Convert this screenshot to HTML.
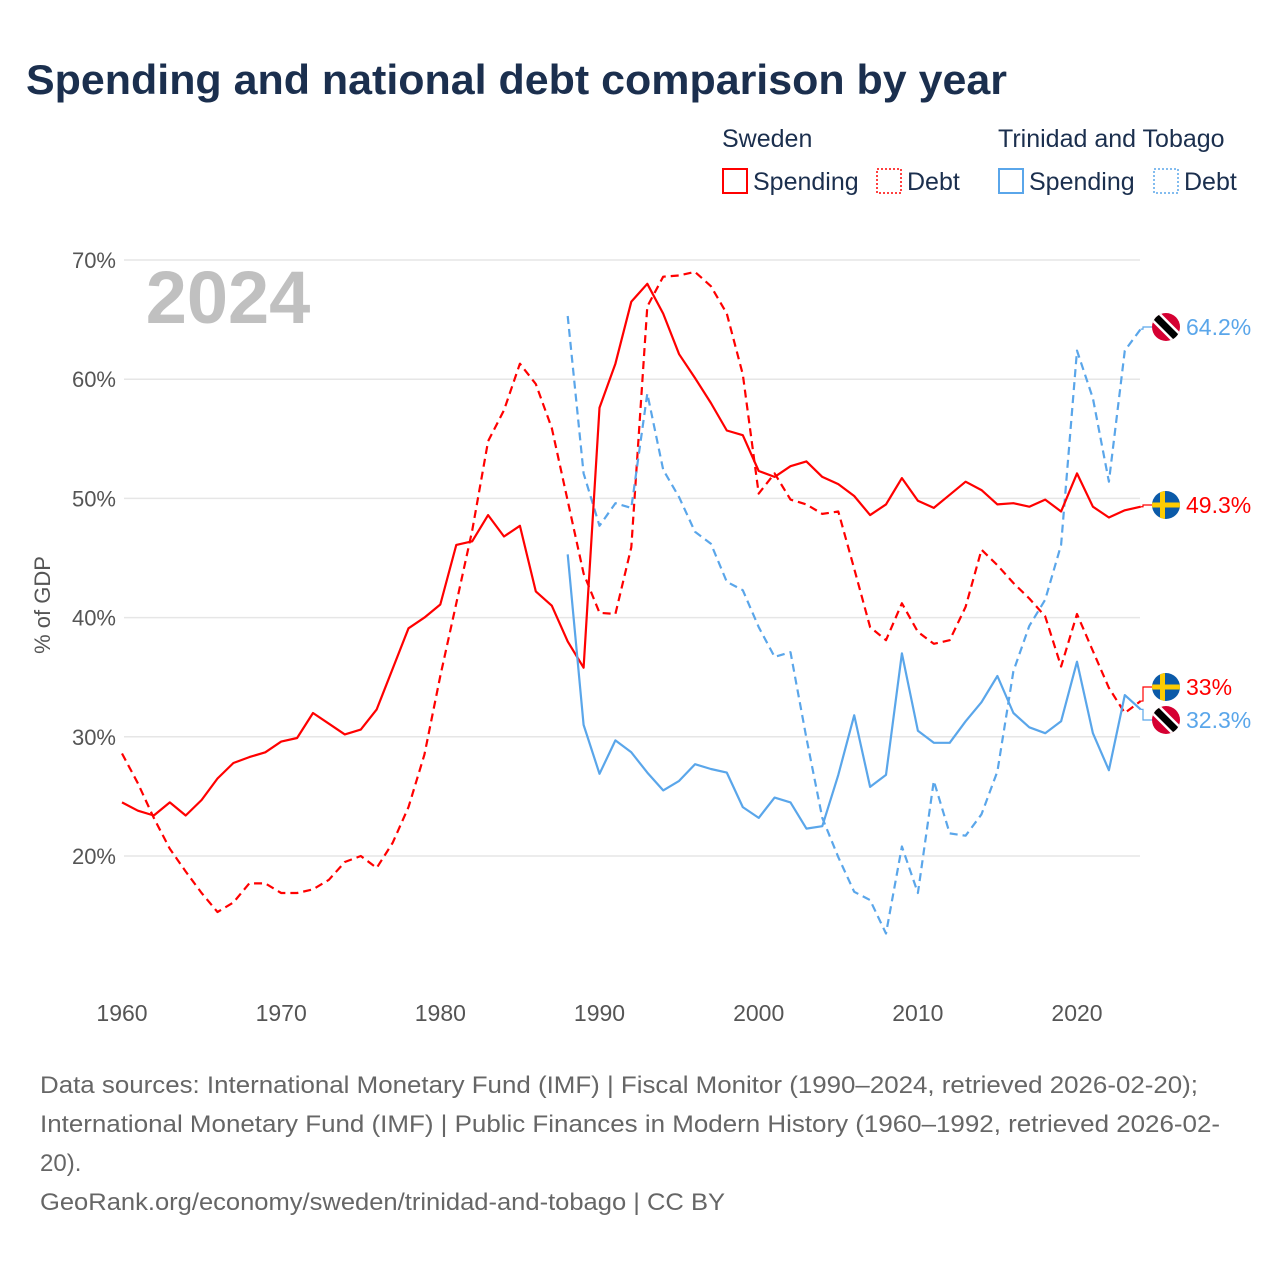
<!DOCTYPE html>
<html><head><meta charset="utf-8">
<style>
body{margin:0;background:#fff;font-family:"Liberation Sans",sans-serif;}
#wrap{position:relative;width:1280px;height:1280px;overflow:hidden;}
</style></head>
<body>
<div id="wrap">
<svg id="chart" width="1280" height="1280" xmlns="http://www.w3.org/2000/svg">
  <text x="26" y="94" font-size="42" font-weight="bold" fill="#1b2f4e" textLength="981" lengthAdjust="spacingAndGlyphs">Spending and national debt comparison by year</text>
  <g font-size="25" fill="#1b2f4e">
    <text x="722" y="147">Sweden</text>
    <text x="998" y="147">Trinidad and Tobago</text>
    <g><rect x="723" y="169" width="24" height="24" fill="none" stroke="#ff0000" stroke-width="2"/><text x="753" y="190">Spending</text></g>
    <g><rect x="877" y="169" width="24" height="24" fill="none" stroke="#ff0000" stroke-width="1.5" stroke-dasharray="2,2"/><text x="907" y="190">Debt</text></g>
    <g><rect x="999" y="169" width="24" height="24" fill="none" stroke="#5aa6ea" stroke-width="2"/><text x="1029" y="190">Spending</text></g>
    <g><rect x="1154" y="169" width="24" height="24" fill="none" stroke="#5aa6ea" stroke-width="1.5" stroke-dasharray="2,2"/><text x="1184" y="190">Debt</text></g>
  </g>
  <text x="228" y="323" font-size="74" font-weight="bold" fill="#c0c0c0" text-anchor="middle">2024</text>
  <text transform="translate(50,605) rotate(-90)" font-size="22" fill="#555" text-anchor="middle">% of GDP</text>
  <g id="grid"></g>
  <g id="series"></g>
  <g id="labels"></g>
  <g font-size="24" fill="#666">
    <text x="40" y="1093" textLength="1158" lengthAdjust="spacingAndGlyphs">Data sources: International Monetary Fund (IMF) | Fiscal Monitor (1990–2024, retrieved 2026-02-20);</text>
    <text x="40" y="1132" textLength="1180" lengthAdjust="spacingAndGlyphs">International Monetary Fund (IMF) | Public Finances in Modern History (1960–1992, retrieved 2026-02-</text>
    <text x="40" y="1171">20).</text>
    <text x="40" y="1210" textLength="685" lengthAdjust="spacingAndGlyphs">GeoRank.org/economy/sweden/trinidad-and-tobago | CC BY</text>
  </g>
</svg>
</div>
<script>
const yTicks=[20,30,40,50,60,70];
const xTicks=[1960,1970,1980,1990,2000,2010,2020];
const sweYears0=1960;
const sweSpending=[24.5,23.8,23.4,24.5,23.4,24.7,26.5,27.8,28.3,28.7,29.6,29.9,32.0,31.1,30.2,30.6,32.3,35.7,39.1,40.0,41.1,46.1,46.4,48.6,46.8,47.7,42.2,41.0,38.0,35.8,57.6,61.3,66.5,68.0,65.5,62.1,60.1,58.0,55.7,55.3,52.3,51.8,52.7,53.1,51.8,51.2,50.2,48.6,49.5,51.7,49.8,49.2,50.3,51.4,50.7,49.5,49.6,49.3,49.9,48.9,52.1,49.3,48.4,49.0,49.3];
const sweDebt=[28.6,26.1,23.2,20.6,18.7,16.9,15.3,16.1,17.7,17.7,16.9,16.9,17.2,18.0,19.5,20.0,19.0,21.1,24.1,28.5,35.1,41.2,47.3,54.8,57.4,61.3,59.6,55.9,49.8,43.7,40.4,40.3,45.9,66.1,68.6,68.7,69.0,67.8,65.5,60.4,50.4,52.1,49.9,49.5,48.7,48.9,44.1,39.2,38.1,41.2,38.8,37.8,38.1,40.9,45.7,44.4,42.9,41.6,40.1,35.9,40.3,37.2,34.1,32.0,33.0];
const ttYears0=1988;
const ttSpending=[45.3,31.0,26.9,29.7,28.7,27.0,25.5,26.3,27.7,27.3,27.0,24.1,23.2,24.9,24.5,22.3,22.5,26.8,31.8,25.8,26.8,37.0,30.5,29.5,29.5,31.3,32.9,35.1,32.0,30.8,30.3,31.3,36.3,30.3,27.2,33.5,32.3];
const ttDebt=[65.3,52.1,47.7,49.6,49.2,58.8,52.4,50.1,47.2,46.2,43.0,42.3,39.2,36.7,37.1,29.9,23.2,19.9,17.0,16.3,13.5,20.8,16.9,26.3,21.9,21.7,23.5,27.1,35.5,39.3,41.5,46.1,62.4,58.4,51.4,62.4,64.2];

const NS="http://www.w3.org/2000/svg";
function X(yr){return 122+(yr-1960)*15.917;}
function Y(v){return 260+(70-v)*11.92;}
function mk(tag,attrs,parent){const e=document.createElementNS(NS,tag);for(const k in attrs)e.setAttribute(k,attrs[k]);parent.appendChild(e);return e;}
const grid=document.getElementById('grid');
yTicks.forEach(t=>{
  const l=mk('line',{x1:124,x2:1140,y1:Y(t),y2:Y(t),stroke:'#e6e6e6','stroke-width':1.5},grid);
  
  
  const tx=mk('text',{x:116,y:Y(t)+8,'font-size':22,fill:'#555','text-anchor':'end'},grid);
  tx.textContent=t+'%';
  
  
});
xTicks.forEach(t=>{
  const tx=mk('text',{x:X(t),y:1021,'font-size':23,fill:'#555','text-anchor':'middle'},grid);
  tx.textContent=t;
  
  
});
const ser=document.getElementById('series');
function line(arr,y0,color,dash,name){
  const d=arr.map((v,i)=>(i?'L':'M')+X(y0+i).toFixed(1)+','+Y(v).toFixed(1)).join('');
  const p=mk('path',{d:d,fill:'none',stroke:color,'stroke-width':2.2,'stroke-linejoin':'round'},ser);
  if(dash)p.setAttribute('stroke-dasharray','8,5');
  
  
}
line(sweDebt,sweYears0,'#ff0000',true,'line-sweden-debt');
line(ttDebt,ttYears0,'#5aa6ea',true,'line-tt-debt');
line(sweSpending,sweYears0,'#ff0000',false,'line-sweden-spending');
line(ttSpending,ttYears0,'#5aa6ea',false,'line-tt-spending');

const lab=document.getElementById('labels');
function flag(cx,cy,type,name){
  const g=mk('g',{},lab);
  
  
  const id='c'+Math.round(cy);
  const cp=mk('clipPath',{id:id},g);mk('circle',{cx:cx,cy:cy,r:14},cp);
  const h=mk('g',{'clip-path':'url(#'+id+')'},g);
  if(type==='se'){
    mk('rect',{x:cx-14,y:cy-14,width:28,height:28,fill:'#0b5aa8'},h);
    mk('rect',{x:cx-14,y:cy-2.5,width:28,height:5,fill:'#fecc02'},h);
    mk('rect',{x:cx-6,y:cy-14,width:5,height:28,fill:'#fecc02'},h);
  }else{
    mk('rect',{x:cx-14,y:cy-14,width:28,height:28,fill:'#d50032'},h);
    mk('line',{x1:cx-14,y1:cy-14,x2:cx+14,y2:cy+14,stroke:'#fff','stroke-width':12},h);
    mk('line',{x1:cx-14,y1:cy-14,x2:cx+14,y2:cy+14,stroke:'#000','stroke-width':7},h);
  }
}
function endLabel(val,yr,ly,color,type,name){
  const lx=1143;
  const p=mk('path',{d:`M${X(yr)},${Y(val)} L${lx},${Y(val)} L${lx},${ly} L1152,${ly}`,fill:'none',stroke:color,'stroke-width':1.2},lab);
  
  
  flag(1166,ly,type,name+'-flag');
  const t=mk('text',{x:1186,y:ly+8,'font-size':23,fill:color},lab);
  t.textContent=(Math.round(val*10)/10)+'%';
  
  
}
endLabel(ttDebt[ttDebt.length-1],2024,327,'#5aa6ea','tt','label-tt-debt');
endLabel(sweSpending[sweSpending.length-1],2024,505,'#ff0000','se','label-sweden-spending');
endLabel(sweDebt[sweDebt.length-1],2024,687,'#ff0000','se','label-sweden-debt');
endLabel(ttSpending[ttSpending.length-1],2024,720,'#5aa6ea','tt','label-tt-spending');
</script>
</body></html>
